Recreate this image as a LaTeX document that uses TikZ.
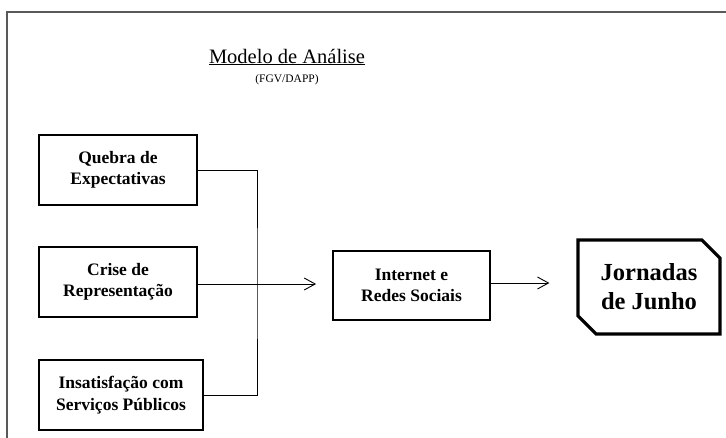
\documentclass[tikz,border=0pt]{standalone}
\usepackage{fontspec}
\setmainfont{Liberation Serif}
\usetikzlibrary{shapes.misc, arrows.meta}

\tikzset{
  fator/.style={draw, line width=1.8pt, align=center, font=\bfseries\fontsize{17.5}{21.5}\selectfont,
    minimum height=70pt, inner sep=2pt},
  seta/.style={-{Straight Barb[length=11pt, width=12pt]}, line width=0.9pt}
}

\begin{document}
\begin{tikzpicture}[x=1pt, y=-1pt]
      \useasboundingbox (0,0) rectangle (726,438);
      % moldura
      \draw[gray!70!black, line width=1.6pt] (7,460) -- (7,12) -- (740,12);
      % titulo
      \node (titulo) at (287,57) {\fontsize{20.5}{24}\selectfont\underline{Modelo de Análise}};
      \node (fonte) at (287,80) {\fontsize{11.5}{13}\selectfont (FGV/DAPP)};
      % causas
      \node[fator, minimum width=158pt] (quebra) at (118,170) {Quebra de\\Expectativas};
      \node[fator, minimum width=158pt] (crise) at (118,282) {Crise de\\Representação};
      \node[fator, minimum width=164pt] (insat) at (121,395) {Insatisfação com\\Serviços Públicos};
      % meio
      \node[fator, minimum width=157pt, minimum height=69pt] (internet) at (411.5,285.5) {Internet e\\Redes Sociais};
      \node[chamfered rectangle, chamfered rectangle corners={north east, south west},
        chamfered rectangle xsep=15pt, draw, line width=3.2pt, minimum width=142pt, minimum height=94pt,
        align=center, font=\bfseries\fontsize{24.5}{29}\selectfont] (jornadas) at (649,287) {Jornadas\\de Junho};
      % ligacoes
      \coordinate (junta) at (257,284);
      \draw[line width=0.9pt] (quebra.east) -| (junta) |- (insat.east);
      \draw[seta, shorten >=16pt] (crise.east |- junta) -- (internet.west |- junta);
      \draw[seta, shorten >=27pt] (internet.east |- 0,283) -- (jornadas.west |- 0,283);
    \end{tikzpicture}
\end{document}
